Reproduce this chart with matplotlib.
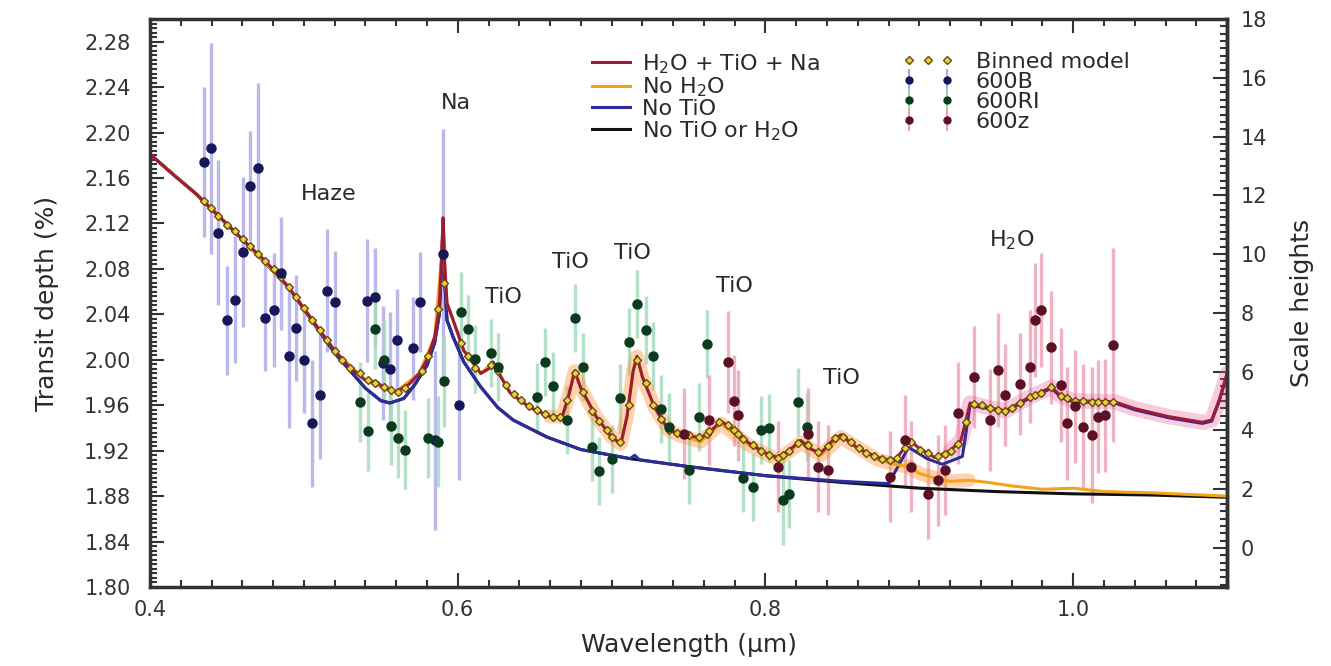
import numpy as np
import matplotlib
matplotlib.use("Agg")
from matplotlib import pyplot as plt
from matplotlib.ticker import MultipleLocator
from matplotlib.legend_handler import HandlerLine2D, HandlerErrorbar

# ---- model spectra (wavelength in um, transit depth in %) ----
full_w = [0.400, 0.415, 0.430, 0.445, 0.460, 0.475, 0.490, 0.505, 0.520, 0.530,
          0.540, 0.548, 0.552, 0.560, 0.568, 0.575, 0.580, 0.585, 0.588, 0.5895,
          0.5905, 0.5915, 0.593, 0.597, 0.604, 0.615, 0.620, 0.623, 0.628, 0.634,
          0.647, 0.660, 0.668, 0.672, 0.676, 0.680, 0.690, 0.700, 0.706, 0.710,
          0.714, 0.7165, 0.720, 0.728, 0.737, 0.745, 0.758, 0.765, 0.771, 0.778,
          0.789, 0.800, 0.808, 0.815, 0.823, 0.830, 0.836, 0.843, 0.849, 0.860,
          0.873, 0.884, 0.890, 0.893, 0.900, 0.910, 0.920, 0.927, 0.930, 0.933,
          0.945, 0.956, 0.970, 0.986, 0.992, 1.000, 1.027, 1.040, 1.062, 1.084,
          1.090, 1.095, 1.100]
full_d = [2.181, 2.163, 2.146, 2.126, 2.106, 2.087, 2.064, 2.036, 2.008, 1.993,
          1.982, 1.980, 1.975, 1.972, 1.978, 1.988, 2.000, 2.020, 2.045, 2.090,
          2.125, 2.085, 2.050, 2.035, 2.008, 1.988, 1.992, 1.998, 1.985, 1.971,
          1.958, 1.950, 1.950, 1.968, 1.990, 1.975, 1.950, 1.932, 1.926, 1.950,
          1.990, 2.003, 1.985, 1.958, 1.938, 1.935, 1.931, 1.938, 1.946, 1.940,
          1.927, 1.918, 1.914, 1.920, 1.929, 1.921, 1.918, 1.928, 1.934, 1.922,
          1.914, 1.911, 1.922, 1.930, 1.922, 1.914, 1.920, 1.929, 1.945, 1.962,
          1.958, 1.955, 1.966, 1.976, 1.968, 1.964, 1.963, 1.957, 1.950, 1.945,
          1.947, 1.965, 1.988]

no_h2o_w = [0.400, 0.430, 0.460, 0.490, 0.520, 0.540, 0.552, 0.560, 0.575, 0.585,
            0.5895, 0.5905, 0.5915, 0.593, 0.604, 0.615, 0.623, 0.634, 0.647, 0.660,
            0.668, 0.672, 0.676, 0.680, 0.690, 0.700, 0.706, 0.710, 0.714, 0.7165,
            0.720, 0.728, 0.737, 0.745, 0.758, 0.771, 0.789, 0.808, 0.823, 0.836,
            0.849, 0.873, 0.884, 0.893, 0.900, 0.910, 0.920, 0.932, 0.945, 0.960,
            0.980, 1.000, 1.020, 1.050, 1.100]
no_h2o_d = [2.181, 2.146, 2.106, 2.064, 2.008, 1.982, 1.975, 1.972, 1.988, 2.020,
            2.090, 2.125, 2.085, 2.050, 2.008, 1.988, 1.998, 1.971, 1.958, 1.950,
            1.950, 1.968, 1.990, 1.975, 1.950, 1.932, 1.926, 1.950, 1.990, 2.003,
            1.985, 1.958, 1.938, 1.933, 1.928, 1.944, 1.925, 1.912, 1.927, 1.916,
            1.932, 1.912, 1.908, 1.906, 1.900, 1.896, 1.893, 1.894, 1.892, 1.889,
            1.886, 1.887, 1.884, 1.883, 1.880]

no_tio_w = [0.400, 0.430, 0.460, 0.490, 0.520, 0.540, 0.550, 0.556, 0.565, 0.572,
            0.580, 0.585, 0.588, 0.5895, 0.5905, 0.5915, 0.593, 0.597, 0.604, 0.615,
            0.626, 0.636, 0.658, 0.680, 0.712, 0.715, 0.718, 0.750, 0.800, 0.850,
            0.880, 0.893, 0.905, 0.915, 0.928, 0.933, 0.945, 0.956, 0.970, 0.986,
            0.992, 1.000, 1.027, 1.040, 1.062, 1.084, 1.090, 1.095, 1.100]
no_tio_d = [2.181, 2.146, 2.106, 2.064, 2.006, 1.975, 1.964, 1.962, 1.966, 1.978,
            1.995, 2.015, 2.040, 2.085, 2.120, 2.070, 2.035, 2.020, 1.998, 1.976,
            1.958, 1.947, 1.932, 1.921, 1.913, 1.916, 1.912, 1.906, 1.898, 1.893,
            1.891, 1.923, 1.913, 1.908, 1.915, 1.960, 1.957, 1.954, 1.965, 1.975,
            1.967, 1.963, 1.962, 1.956, 1.949, 1.944, 1.946, 1.964, 1.987]

bare_w = [0.400, 0.430, 0.460, 0.490, 0.520, 0.540, 0.550, 0.556, 0.565, 0.572,
          0.580, 0.585, 0.588, 0.5895, 0.5905, 0.5915, 0.593, 0.597, 0.604, 0.615,
          0.626, 0.636, 0.658, 0.680, 0.712, 0.750, 0.800, 0.850, 0.900, 0.950,
          1.000, 1.050, 1.100]
bare_d = [2.181, 2.146, 2.106, 2.064, 2.006, 1.975, 1.964, 1.962, 1.966, 1.978,
          1.995, 2.015, 2.040, 2.085, 2.120, 2.070, 2.035, 2.020, 1.998, 1.976,
          1.958, 1.947, 1.932, 1.921, 1.913, 1.906, 1.898, 1.892, 1.887, 1.884,
          1.882, 1.881, 1.879]

# ---- measurements ----
b_w = [0.4352, 0.4397, 0.4445, 0.4503, 0.4553, 0.4603, 0.4651, 0.4701, 0.4749, 0.4803,
       0.4853, 0.4901, 0.4951, 0.4998, 0.5053, 0.5102, 0.5150, 0.5200, 0.5410, 0.5460,
       0.5512, 0.5563, 0.5606, 0.5710, 0.5758, 0.5855, 0.5903, 0.6007]
b_d = [2.174, 2.186, 2.112, 2.035, 2.053, 2.095, 2.153, 2.169, 2.037, 2.044,
       2.076, 2.003, 2.028, 2.000, 1.944, 1.969, 2.061, 2.051, 2.052, 2.055,
       1.997, 1.992, 2.017, 2.010, 2.051, 1.929, 2.093, 1.960]
b_e = [0.066, 0.093, 0.064, 0.048, 0.056, 0.066, 0.048, 0.075, 0.047, 0.050,
       0.050, 0.063, 0.047, 0.047, 0.056, 0.056, 0.054, 0.045, 0.054, 0.043,
       0.050, 0.050, 0.045, 0.045, 0.044, 0.079, 0.110, 0.066]

ri_w = [0.5363, 0.5414, 0.5465, 0.5519, 0.5569, 0.5611, 0.5660, 0.5807, 0.5872, 0.5909,
        0.6018, 0.6068, 0.6115, 0.6213, 0.6263, 0.6513, 0.6567, 0.6621, 0.6712, 0.6762,
        0.6816, 0.6870, 0.6918, 0.7005, 0.7055, 0.7110, 0.7168, 0.7223, 0.7272, 0.7320,
        0.7374, 0.7504, 0.7569, 0.7619, 0.7851, 0.7917, 0.7971, 0.8026, 0.8112, 0.8155,
        0.8214, 0.8271]
ri_d = [1.963, 1.937, 2.027, 2.000, 1.942, 1.931, 1.921, 1.931, 1.928, 1.981,
        2.042, 2.027, 2.001, 2.006, 1.994, 1.967, 1.998, 1.977, 1.947, 2.037,
        1.994, 1.923, 1.902, 1.913, 1.966, 2.016, 2.049, 2.026, 2.003, 1.957,
        1.941, 1.903, 1.950, 2.014, 1.896, 1.888, 1.938, 1.940, 1.877, 1.882,
        1.963, 1.941]
ri_e = [0.035, 0.035, 0.035, 0.035, 0.035, 0.035, 0.035, 0.035, 0.040, 0.040,
        0.035, 0.030, 0.030, 0.030, 0.030, 0.030, 0.030, 0.030, 0.030, 0.030,
        0.030, 0.030, 0.030, 0.030, 0.030, 0.030, 0.030, 0.030, 0.030, 0.030,
        0.030, 0.030, 0.030, 0.030, 0.030, 0.030, 0.030, 0.030, 0.040, 0.030,
        0.030, 0.030]

z_w = [0.7472, 0.7635, 0.7754, 0.7798, 0.7820, 0.8080, 0.8275, 0.8340, 0.8405, 0.8807,
       0.8904, 0.8948, 0.9056, 0.9120, 0.9164, 0.9250, 0.9354, 0.9457, 0.9512, 0.9555,
       0.9653, 0.9718, 0.9750, 0.9792, 0.9859, 0.9920, 0.9957, 1.0011, 1.0065, 1.0120,
       1.0163, 1.0206, 1.0260]
z_d = [1.935, 1.947, 1.998, 1.964, 1.951, 1.906, 1.935, 1.906, 1.903, 1.897,
       1.929, 1.906, 1.882, 1.894, 1.903, 1.953, 1.985, 1.947, 1.991, 1.969,
       1.979, 1.994, 2.035, 2.044, 2.011, 1.978, 1.944, 1.959, 1.941, 1.934,
       1.950, 1.951, 2.013]
z_e = [0.040, 0.040, 0.045, 0.040, 0.040, 0.040, 0.040, 0.040, 0.040, 0.040,
       0.040, 0.040, 0.040, 0.040, 0.040, 0.045, 0.045, 0.045, 0.050, 0.045,
       0.045, 0.050, 0.050, 0.050, 0.050, 0.050, 0.050, 0.050, 0.055, 0.060,
       0.050, 0.050, 0.085]

# binned model, one value per spectroscopic bin
binned_w = (b_w[:18] + ri_w + z_w +
            [0.5250, 0.5300, 0.5765, 0.6313, 0.6363, 0.6413, 0.6463, 0.6665, 0.6967,
             0.7422, 0.7700, 0.8455, 0.8505, 0.8555, 0.8605, 0.8655, 0.8705, 0.8755,
             0.8855, 0.9005, 0.9205, 0.9305, 0.9405, 0.9605])
binned_d = [2.140, 2.134, 2.127, 2.119, 2.113, 2.106, 2.100, 2.093, 2.087, 2.080,
            2.073, 2.064, 2.055, 2.046, 2.035, 2.026, 2.017, 2.008,
            1.988, 1.982, 1.980, 1.976, 1.973, 1.972, 1.975, 2.003, 2.045, 2.068,
            2.015, 2.003, 1.993, 1.995, 1.990, 1.956, 1.952, 1.950, 1.965, 1.988,
            1.972, 1.955, 1.946, 1.932, 1.928, 1.960, 2.000, 1.980, 1.960, 1.948,
            1.938, 1.934, 1.932, 1.935, 1.930, 1.925, 1.920, 1.916, 1.916, 1.920,
            1.927, 1.925,
            1.935, 1.937, 1.943, 1.938, 1.935, 1.914, 1.925, 1.919, 1.924, 1.912,
            1.922, 1.928, 1.918, 1.915, 1.917, 1.926, 1.961, 1.958, 1.956, 1.955,
            1.962, 1.967, 1.969, 1.971, 1.976, 1.968, 1.966, 1.964, 1.964, 1.963,
            1.963, 1.963, 1.963,
            2.000, 1.993, 1.990, 1.978, 1.970, 1.965, 1.959, 1.950, 1.938,
            1.936, 1.945, 1.931, 1.932, 1.928, 1.922, 1.918, 1.915, 1.913,
            1.914, 1.921, 1.920, 1.945, 1.960, 1.958]

labels_txt = ["Haze", "Na", "TiO", "TiO", "TiO", "TiO", "TiO", "H$_2$O"]
labels_w = [0.516, 0.5986, 0.630, 0.6734, 0.7138, 0.7796, 0.8492, 0.960]
labels_d = [2.146, 2.226, 2.055, 2.086, 2.094, 2.065, 1.984, 2.105]

# transit depth <-> scale heights
D0 = 1.8343
DH = 0.025872

col_full = "#9c1c34"
col_noh2o = "#f3a21c"
col_notio = "#2c2c9c"
col_bare = "#111111"
txt_col = "#2a2a2a"

plt.rcParams['font.family'] = ['DejaVu Sans']

fig = plt.figure(figsize=(13.31, 6.66), dpi=100)
ax = fig.add_axes([0.1127, 0.1186, 0.8092, 0.8529])

# shaded uncertainty of the models
ax.plot(no_h2o_w[19:48], no_h2o_d[19:48], color="#ff8a2a", lw=10, alpha=0.38,
        solid_capstyle='round', zorder=1.5)
ax.plot(full_w[66:], full_d[66:], color="#ee5a9a", lw=11, alpha=0.32,
        solid_capstyle='round', zorder=1.5)

# error bars (behind models)
ax.errorbar(b_w, b_d, yerr=b_e, fmt='none', ecolor="#b0ace8", elinewidth=2.4,
            alpha=0.85, zorder=1)
ax.errorbar(ri_w, ri_d, yerr=ri_e, fmt='none', ecolor="#a6dcbe", elinewidth=2.4,
            alpha=0.85, zorder=1)
ax.errorbar(z_w, z_d, yerr=z_e, fmt='none', ecolor="#eea6ba", elinewidth=2.4,
            alpha=0.85, zorder=1)

l_bare, = ax.plot(bare_w, bare_d, color=col_bare, lw=2.2, zorder=2)
l_notio, = ax.plot(no_tio_w, no_tio_d, color=col_notio, lw=2.2, zorder=2.1)
l_noh2o, = ax.plot(no_h2o_w, no_h2o_d, color=col_noh2o, lw=2.2, zorder=2.2)
l_full, = ax.plot(full_w, full_d, color=col_full, lw=2.2, zorder=2.3)

l_bin, = ax.plot(binned_w, binned_d, ls='none', marker='D', ms=4.5,
                 mfc="#e9d23c", mec="#6a4a12", mew=1.0, zorder=4)

ax.plot(b_w, b_d, ls='none', marker='o', ms=6.5, color="#16165a", zorder=5)
ax.plot(ri_w, ri_d, ls='none', marker='o', ms=6.5, color="#0c3a1e", zorder=5)
ax.plot(z_w, z_d, ls='none', marker='o', ms=6.5, color="#5c1024", zorder=5)

# legend proxies for the data sets
e_b = ax.errorbar([np.nan], [np.nan], yerr=[0.01], fmt='o', ms=5, color="#16165a",
                  ecolor="#aaa6e6", elinewidth=1.5)
e_ri = ax.errorbar([np.nan], [np.nan], yerr=[0.01], fmt='o', ms=5, color="#0c3a1e",
                   ecolor="#9fd8b8", elinewidth=1.5)
e_z = ax.errorbar([np.nan], [np.nan], yerr=[0.01], fmt='o', ms=5, color="#5c1024",
                  ecolor="#eea0b6", elinewidth=1.5)

for t, w, d in zip(labels_txt, labels_w, labels_d):
    ax.text(w, d, t, ha='center', va='center', fontsize=16, color=txt_col)

leg1 = ax.legend([l_full, l_noh2o, l_notio, l_bare],
                 ["H$_2$O + TiO + Na", "No H$_2$O", "No TiO", "No TiO or H$_2$O"],
                 loc='upper left', bbox_to_anchor=(0.392, 0.977), frameon=False,
                 fontsize=16, handlelength=1.7, labelspacing=0.0, handletextpad=0.55,
                 labelcolor=txt_col)
ax.add_artist(leg1)
ax.legend([l_bin, e_b, e_ri, e_z], ["Binned model", "600B", "600RI", "600z"],
          loc='upper left', bbox_to_anchor=(0.680, 0.977), frameon=False,
          fontsize=16, handlelength=2.3, labelspacing=0.0, handletextpad=1.0,
          handler_map={l_bin: HandlerLine2D(numpoints=3),
                       e_b: HandlerErrorbar(numpoints=2),
                       e_ri: HandlerErrorbar(numpoints=2),
                       e_z: HandlerErrorbar(numpoints=2)},
          labelcolor=txt_col)

ax.set_xlim(0.4, 1.1)
ax.set_ylim(1.80, 2.30)
ax.set_xticks([0.4, 0.6, 0.8, 1.0])
ax.set_xticklabels(["0.4", "0.6", "0.8", "1.0"])
ax.set_yticks(np.arange(1.80, 2.281, 0.04))
ax.set_yticklabels(["%.2f" % v for v in np.arange(1.80, 2.281, 0.04)])
ax.xaxis.set_minor_locator(MultipleLocator(0.02))
ax.yaxis.set_minor_locator(MultipleLocator(0.004))
ax.tick_params(which='both', direction='in', top=True, right=False,
               labelsize=15, colors="#333333", width=1.5)
ax.tick_params(axis='x', which='major', pad=9)
ax.tick_params(axis='y', which='major', pad=14)
ax.tick_params(which='major', length=10)
ax.tick_params(which='minor', length=5)
for s in ax.spines.values():
    s.set_linewidth(2.5)
    s.set_color("#333333")

sec = ax.secondary_yaxis('right', functions=(lambda d: (d - D0) / DH,
                                             lambda h: h * DH + D0))
sec.set_yticks(np.arange(0, 18.1, 2))
sec.yaxis.set_minor_locator(MultipleLocator(0.25))
sec.tick_params(which='both', direction='in', labelsize=15, colors="#333333", width=1.5)
sec.tick_params(which='major', length=10, pad=10)
sec.tick_params(which='minor', length=5)
sec.spines['right'].set_linewidth(2.5)
sec.spines['right'].set_color("#333333")
sec.set_ylabel("Scale heights", fontsize=18, color=txt_col, labelpad=16)

ax.set_xlabel("Wavelength (\u00b5m)", fontsize=18, color=txt_col, labelpad=10)
ax.set_ylabel("Transit depth (%)", fontsize=18, color=txt_col, labelpad=18)

fig.savefig("out.png", dpi=100)
plt.close(fig)
